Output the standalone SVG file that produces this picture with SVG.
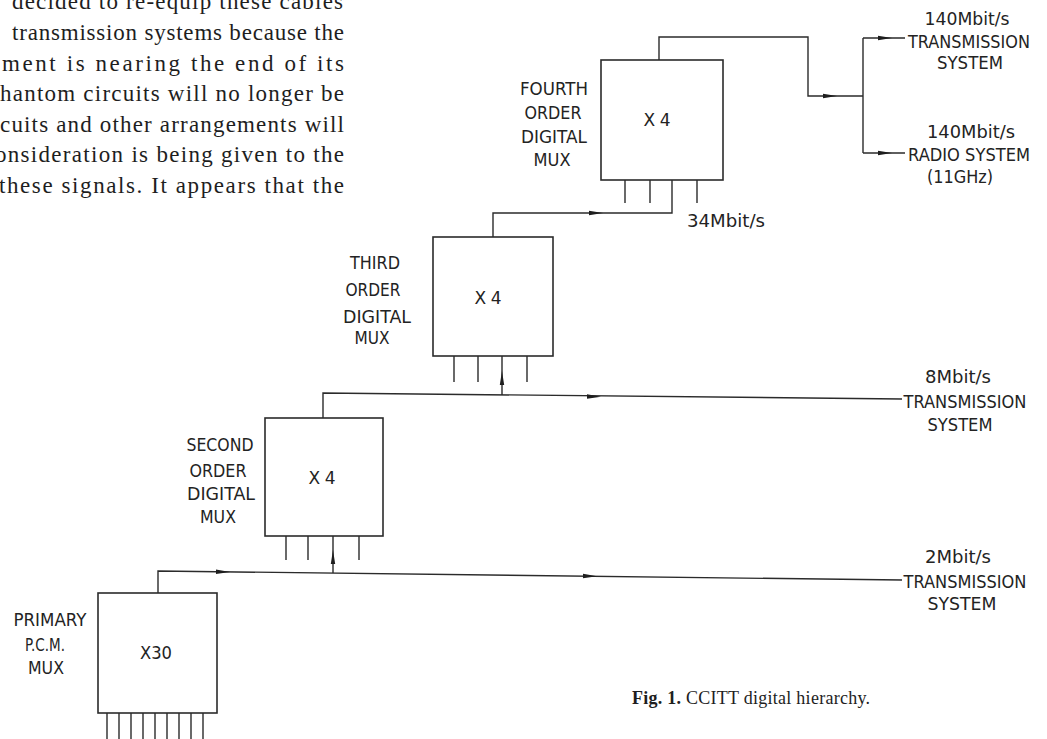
<svg xmlns="http://www.w3.org/2000/svg" xmlns:xlink="http://www.w3.org/1999/xlink" width="1047" height="739" viewBox="0 0 1047 739">
<style>
.bg{fill:#ffffff}
.box{fill:none;stroke:#2b2b2b;stroke-width:1.6}
.ln{fill:none;stroke:#2b2b2b;stroke-width:1.4}
.lbl{font-family:"DejaVu Sans",sans-serif;font-size:17px;fill:#232323;text-anchor:middle}
.body{font-family:"Liberation Serif",serif;font-size:23px;fill:#1e1e1e}
.cap{font-family:"Liberation Serif",serif;font-size:18px;fill:#1e1e1e}
.ah{fill:#1e1e1e}
</style>
<defs>
<path id="ah" class="ah" d="M-7,-2.2 L7,0 L-7,2.2 Z"/>
</defs>
<rect class="bg" x="0" y="0" width="1047" height="739"/>

<g id="paragraph">
<text class="body" x="12" y="9" textLength="331" lengthAdjust="spacing">decided to re-equip these cables</text>
<text class="body" x="12" y="40" textLength="332" lengthAdjust="spacing">transmission systems because the</text>
<text class="body" x="2" y="71" textLength="342" lengthAdjust="spacing">ment is nearing the end of its</text>
<text class="body" x="0" y="101" textLength="344" lengthAdjust="spacing">hantom circuits will no longer be</text>
<text class="body" x="0" y="132" textLength="344" lengthAdjust="spacing">cuits and other arrangements will</text>
<text class="body" x="-5" y="162" textLength="349" lengthAdjust="spacing">onsideration is being given to the</text>
<text class="body" x="-1" y="193" textLength="345" lengthAdjust="spacing">these signals. It appears that the</text>
</g>

<g id="connectors">
<path class="ln" d="M659,60 V37 H808 V96 H863"/>
<path class="ln" d="M863,38 V153 M863,38 H905 M863,153 H905"/>
<path class="ln" d="M625,180 V203 M650,180 V203 M697,180 V203 M672,180 V213 H493 V237"/>
<path class="ln" d="M454,356 V382 M478,356 V382 M527,356 V382 M502,356 V395"/>
<path class="ln" d="M323,418 V393 L902,399"/>
<path class="ln" d="M286,536 V560 M308,536 V560 M359,536 V560 M333,536 V573"/>
<path class="ln" d="M158,593 V571 L902,580"/>
<path class="ln" d="M107,713 V739 M119,713 V739 M131,713 V739 M143,713 V739 M155,713 V739 M167,713 V739 M179,713 V739 M191,713 V739 M203,713 V739"/>
<use xlink:href="#ah" transform="translate(830,96)"/>
<use xlink:href="#ah" transform="translate(885,38)"/>
<use xlink:href="#ah" transform="translate(885,153)"/>
<use xlink:href="#ah" transform="translate(596,213)"/>
<use xlink:href="#ah" transform="translate(502,378) rotate(-90)"/>
<use xlink:href="#ah" transform="translate(594,396.6) rotate(0.6)"/>
<use xlink:href="#ah" transform="translate(333,557) rotate(-90)"/>
<use xlink:href="#ah" transform="translate(223,571.8) rotate(0.7)"/>
<use xlink:href="#ah" transform="translate(590,576.1) rotate(0.7)"/>
</g>

<g id="fourth-mux">
<rect class="box" x="601" y="60" width="122" height="120"/>
<text class="lbl" x="554" y="95" textLength="68" lengthAdjust="spacingAndGlyphs">FOURTH</text>
<text class="lbl" x="553" y="119" textLength="57" lengthAdjust="spacingAndGlyphs">ORDER</text>
<text class="lbl" x="554" y="143" textLength="66" lengthAdjust="spacingAndGlyphs">DIGITAL</text>
<text class="lbl" x="552" y="166" textLength="37" lengthAdjust="spacingAndGlyphs">MUX</text>
<text class="lbl" x="657" y="126" textLength="27" lengthAdjust="spacing">X 4</text>
</g>

<g id="third-mux">
<rect class="box" x="433" y="237" width="120" height="119"/>
<text class="lbl" x="375" y="269" textLength="50" lengthAdjust="spacingAndGlyphs">THIRD</text>
<text class="lbl" x="373" y="296" textLength="55" lengthAdjust="spacingAndGlyphs">ORDER</text>
<text class="lbl" x="377" y="323" textLength="68" lengthAdjust="spacingAndGlyphs">DIGITAL</text>
<text class="lbl" x="372" y="344" textLength="35" lengthAdjust="spacingAndGlyphs">MUX</text>
<text class="lbl" x="488" y="304" textLength="27" lengthAdjust="spacing">X 4</text>
</g>

<g id="second-mux">
<rect class="box" x="265" y="418" width="118" height="118"/>
<text class="lbl" x="220" y="451" textLength="67" lengthAdjust="spacingAndGlyphs">SECOND</text>
<text class="lbl" x="218" y="477" textLength="57" lengthAdjust="spacingAndGlyphs">ORDER</text>
<text class="lbl" x="221" y="500" textLength="68" lengthAdjust="spacingAndGlyphs">DIGITAL</text>
<text class="lbl" x="218" y="523" textLength="36" lengthAdjust="spacingAndGlyphs">MUX</text>
<text class="lbl" x="322" y="484" textLength="27" lengthAdjust="spacing">X 4</text>
</g>

<g id="primary-mux">
<rect class="box" x="98" y="593" width="119" height="120"/>
<text class="lbl" x="50" y="626" textLength="73" lengthAdjust="spacingAndGlyphs">PRIMARY</text>
<text class="lbl" x="45" y="651" textLength="40" lengthAdjust="spacingAndGlyphs">P.C.M.</text>
<text class="lbl" x="46" y="674" textLength="36" lengthAdjust="spacingAndGlyphs">MUX</text>
<text class="lbl" x="156" y="659" textLength="32" lengthAdjust="spacingAndGlyphs">X30</text>
</g>

<g id="tx-140">
<text class="lbl" x="967" y="25" textLength="85" lengthAdjust="spacingAndGlyphs">140Mbit/s</text>
<text class="lbl" x="969" y="48" textLength="122" lengthAdjust="spacingAndGlyphs">TRANSMISSION</text>
<text class="lbl" x="970" y="69" textLength="66" lengthAdjust="spacingAndGlyphs">SYSTEM</text>
</g>

<g id="radio-140">
<text class="lbl" x="971" y="138" textLength="88" lengthAdjust="spacingAndGlyphs">140Mbit/s</text>
<text class="lbl" x="969" y="161" textLength="122" lengthAdjust="spacingAndGlyphs">RADIO SYSTEM</text>
<text class="lbl" x="960" y="183" textLength="66" lengthAdjust="spacingAndGlyphs">(11GHz)</text>
</g>

<g id="label-34">
<text class="lbl" x="726" y="227" textLength="78" lengthAdjust="spacingAndGlyphs">34Mbit/s</text>
</g>

<g id="tx-8">
<text class="lbl" x="958" y="383" textLength="66" lengthAdjust="spacingAndGlyphs">8Mbit/s</text>
<text class="lbl" x="965" y="408" textLength="123" lengthAdjust="spacingAndGlyphs">TRANSMISSION</text>
<text class="lbl" x="960" y="431" textLength="65" lengthAdjust="spacingAndGlyphs">SYSTEM</text>
</g>

<g id="tx-2">
<text class="lbl" x="958" y="563" textLength="66" lengthAdjust="spacingAndGlyphs">2Mbit/s</text>
<text class="lbl" x="965" y="588" textLength="123" lengthAdjust="spacingAndGlyphs">TRANSMISSION</text>
<text class="lbl" x="962" y="610" textLength="69" lengthAdjust="spacingAndGlyphs">SYSTEM</text>
</g>

<g id="caption">
<text class="cap" x="632" y="704" textLength="238" lengthAdjust="spacing"><tspan font-weight="bold">Fig. 1.</tspan>  CCITT digital hierarchy.</text>
</g>
</svg>
